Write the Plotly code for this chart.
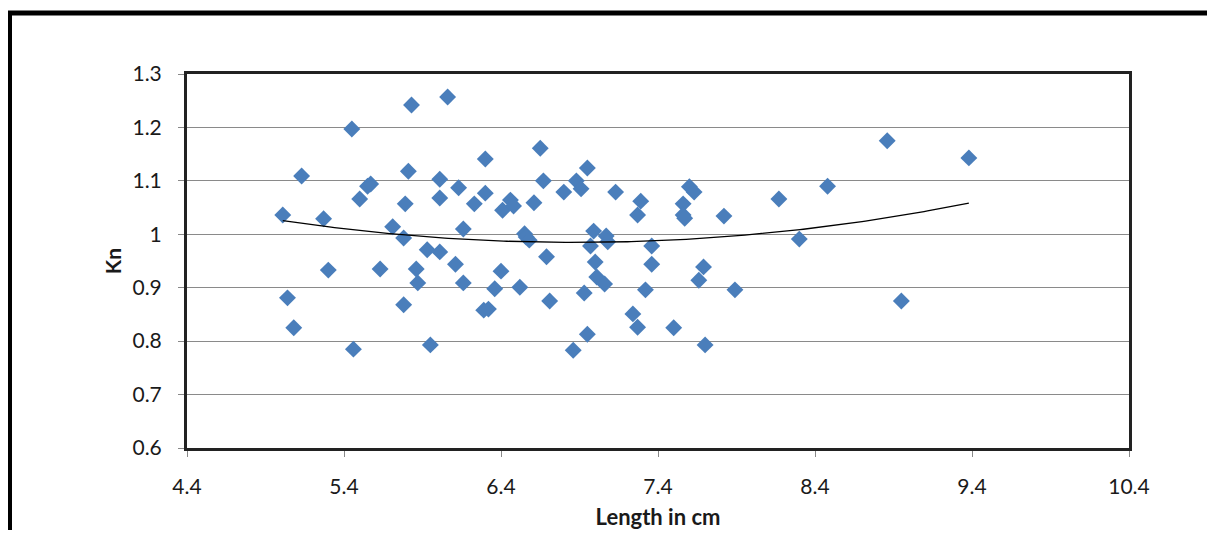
import numpy as np
import plotly.graph_objects as go

# Length in cm
length_cm = [5.01, 5.04, 5.08, 5.13, 5.27, 5.30, 5.45, 5.46, 5.50, 5.55,
             5.57, 5.63, 5.71, 5.78, 5.78, 5.79, 5.81, 5.83, 5.86, 5.87,
             5.93, 5.95, 6.01, 6.01, 6.01, 6.06, 6.11, 6.13, 6.16, 6.16,
             6.23, 6.29, 6.30, 6.30, 6.32, 6.36, 6.40, 6.41, 6.46, 6.48,
             6.52, 6.55, 6.56, 6.58, 6.61, 6.65, 6.67, 6.69, 6.71, 6.80,
             6.86, 6.88, 6.91, 6.93, 6.95, 6.95, 6.97, 6.99, 7.00, 7.01,
             7.06, 7.07, 7.08, 7.13, 7.24, 7.27, 7.27, 7.29, 7.32, 7.36,
             7.36, 7.50, 7.56, 7.56, 7.57, 7.60, 7.63, 7.66, 7.69, 7.70,
             7.82, 7.89, 8.17, 8.30, 8.48, 8.86, 8.95, 9.38]
# Relative condition factor Kn
kn = [1.036, 0.881, 0.825, 1.109, 1.029, 0.933, 1.197, 0.785, 1.066, 1.090,
      1.094, 0.935, 1.014, 0.993, 0.868, 1.057, 1.118, 1.242, 0.935, 0.909,
      0.971, 0.793, 1.103, 1.068, 0.967, 1.257, 0.944, 1.087, 1.010, 0.909,
      1.057, 0.858, 1.077, 1.141, 0.860, 0.898, 0.931, 1.045, 1.064, 1.053,
      0.901, 1.001, 0.995, 0.989, 1.059, 1.161, 1.100, 0.958, 0.875, 1.079,
      0.783, 1.100, 1.085, 0.890, 1.124, 0.813, 0.978, 1.006, 0.948, 0.920,
      0.907, 0.997, 0.986, 1.079, 0.851, 1.036, 0.826, 1.062, 0.896, 0.978,
      0.944, 0.825, 1.057, 1.036, 1.030, 1.089, 1.079, 0.914, 0.939, 0.793,
      1.034, 0.896, 1.066, 0.991, 1.090, 1.175, 0.875, 1.143]

x_ticks = [4.4, 5.4, 6.4, 7.4, 8.4, 9.4, 10.4]
y_ticks = [0.6, 0.7, 0.8, 0.9, 1.0, 1.1, 1.2, 1.3]

# polynomial (order 2) trendline from the data
coef = np.polyfit(length_cm, kn, 2)
xt = np.linspace(min(length_cm), max(length_cm), 200)
yt = np.polyval(coef, xt)

# page has an 8px body margin; figure sized to fit the window exactly
OFF = 8
W, H = 1215 - 2 * OFF, 538 - 2 * OFF
L, T = 187 - OFF, 74 - OFF
R = W + OFF - 1129
B = H + OFF - 448
pw, ph = W - L - R, H - T - B

def px(xp):  # page x -> paper
    return (xp - OFF - L) / pw

def py(yp):  # page y -> paper
    return (H - B - (yp - OFF)) / ph

fig = go.Figure()
fig.add_trace(go.Scatter(
    x=length_cm, y=kn, mode="markers",
    marker=dict(symbol="diamond", size=13, color="#4A7EBB",
                line=dict(width=0)),
    showlegend=False, hoverinfo="x+y"))
fig.add_trace(go.Scatter(
    x=xt, y=yt, mode="lines", line=dict(color="black", width=1.3),
    showlegend=False, hoverinfo="skip"))

font = "Lato, 'Open Sans', sans-serif"
fig.update_layout(
    width=W, height=H,
    margin=dict(l=L, r=R, t=T, b=B, pad=0),
    paper_bgcolor="white", plot_bgcolor="white",
    font=dict(family=font, color="#1a1a1a"),
    xaxis=dict(range=[4.4, 10.4], tickvals=x_ticks,
               ticktext=[f"{v:.1f}" for v in x_ticks],
               showgrid=False, zeroline=False, automargin=False,
               showline=True, linecolor="#222222", linewidth=3, mirror=True,
               ticks="outside", ticklen=6, tickcolor="#888888", tickwidth=1,
               tickfont=dict(size=21, family=font),
               ticklabelstandoff=12,
               title=dict(text="<b>Length in cm</b>", font=dict(size=22, family=font),
                          standoff=14)),
    yaxis=dict(range=[0.6, 1.3], tickvals=y_ticks,
               ticktext=["0.6", "0.7", "0.8", "0.9", "1", "1.1", "1.2", "1.3"],
               showgrid=True, gridcolor="#8a8a8a", gridwidth=1,
               zeroline=False, automargin=False,
               showline=True, linecolor="#222222", linewidth=3, mirror=True,
               ticks="outside", ticklen=6, tickcolor="#888888", tickwidth=1,
               tickfont=dict(size=21, family=font),
               ticklabelstandoff=12,
               title=dict(text="<b>Kn</b>", font=dict(size=21, family=font),
                          standoff=6)),
    shapes=[
        dict(type="line", xref="paper", yref="paper",
             x0=px(7), x1=px(1240), y0=py(13), y1=py(13),
             line=dict(color="black", width=5)),
        dict(type="line", xref="paper", yref="paper",
             x0=px(9.5), x1=px(9.5), y0=py(11), y1=py(560),
             line=dict(color="black", width=5)),
    ],
)

fig.write_html("out.html")
